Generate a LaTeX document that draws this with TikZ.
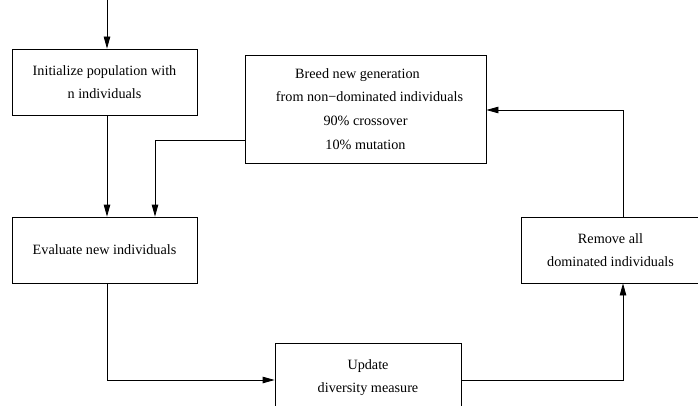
\documentclass[tikz,border=0pt]{standalone}
\usepackage{fontspec}
\setmainfont{Liberation Serif}
\usetikzlibrary{arrows.meta}
\begin{document}
\begin{tikzpicture}[x=1pt,y=-1pt,
  box/.style={draw,line width=0.8pt,align=center,inner sep=0pt,
    font=\fontsize{14.2}{23.7}\selectfont},
  arr/.style={line width=0.8pt,-{Triangle[length=12pt,width=6.5pt]}},
  ln/.style={line width=0.8pt}]
\useasboundingbox (0,0) rectangle (698,406);
\clip (0,0) rectangle (698,406);
\node[box,minimum width=185pt,minimum height=66pt] (init) at (104.5,82) {Initialize population with\\n individuals};
\node[box,minimum width=241pt,minimum height=108pt] (breed) at (365.5,109) {Breed new generation\kern16pt\null\\\hspace*{8pt}from non−dominated individuals\\90\% crossover\\10\% mutation};
\node[box,minimum width=185pt,minimum height=66pt] (eval) at (104.5,250) {Evaluate new individuals};
\node[box,minimum width=186pt,minimum height=66pt,text depth=0pt] (upd) at (368,376) {Update\\diversity measure};
\node[box,minimum width=179pt,minimum height=66pt] (rem) at (610.5,250) {Remove all\\dominated individuals};
\coordinate (start) at (107,0);
\coordinate (c1) at (155,140);
\coordinate (c2) at (107,380);
\coordinate (c3) at (623,380);
\coordinate (c4) at (623,110);
\draw[arr] (start) -- (init.north -| start);
\draw[arr] (init.south -| start) -- (eval.north -| start);
\draw[arr] (c1 -| breed.west) -- (c1) -- (c1 |- eval.north);
\draw[arr] (eval.south -| c2) -- (c2) -- (c2 -| upd.west);
\draw[arr] (c3 -| upd.east) -- (c3) -- (c3 |- rem.south);
\draw[arr] (rem.north -| c4) -- (c4) -- (c4 -| breed.east);
\end{tikzpicture}
\end{document}
